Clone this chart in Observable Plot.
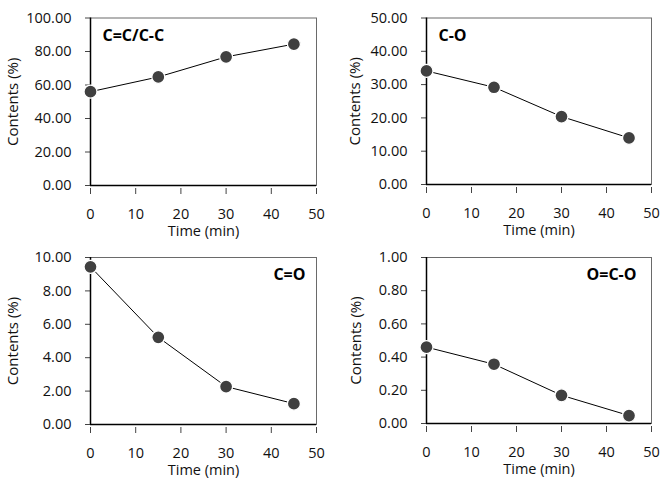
<!DOCTYPE html>
<html>
<head>
<meta charset="utf-8">
<script src="https://cdn.jsdelivr.net/npm/d3@7"></script>
<script src="https://cdn.jsdelivr.net/npm/@observablehq/plot@0.6"></script>
<style>
  body { margin: 0; background: white; }
  #wrap { position: relative; width: 661px; height: 482px; background: white; }
  #wrap > div, #wrap > svg { position: absolute; }
</style>
</head>
<body>
<div id="wrap"></div>
<script>
const times = [0, 15, 30, 45];
const xTicks = [0, 10, 20, 30, 40, 50];
const ccValues = [56.0, 64.8, 76.8, 84.4];
const coValues = [34.1, 29.2, 20.4, 14.0];
const cdoValues = [9.44, 5.22, 2.27, 1.25];
const ocoValues = [0.46, 0.357, 0.17, 0.048];
const ccTicks = [0, 20, 40, 60, 80, 100];
const coTicks = [0, 10, 20, 30, 40, 50];
const cdoTicks = [0, 2, 4, 6, 8, 10];
const ocoTicks = [0, 0.2, 0.4, 0.6, 0.8, 1.0];
const panelLabels = ["C=C/C-C", "C-O", "C=O", "O=C-O"];
const xTitle = "Time (min)";
const yTitle = "Contents (%)";

const panels = [
  {values: ccValues, ticks: ccTicks, label: panelLabels[0], left: 0, top: 0,
   m: {l: 90, r: 14, t: 17.5, b: 56}, labelPos: "left", ytDx: -77},
  {values: coValues, ticks: coTicks, label: panelLabels[1], left: 330, top: 0,
   m: {l: 96, r: 9, t: 17.5, b: 57}, labelPos: "left", ytDx: -71},
  {values: cdoValues, ticks: cdoTicks, label: panelLabels[2], left: 0, top: 241,
   m: {l: 90, r: 14, t: 16, b: 58}, labelPos: "right", labelDx: -11, ytDx: -77},
  {values: ocoValues, ticks: ocoTicks, label: panelLabels[3], left: 330, top: 241,
   m: {l: 96, r: 9, t: 16, b: 59}, labelPos: "right", labelDx: -15, ytDx: -70}
];

const wrap = document.getElementById("wrap");
const fmt = d3.format(".2f");

for (const p of panels) {
  const data = times.map((t, i) => ({t, v: p.values[i]}));
  const ymax = p.ticks[p.ticks.length - 1];
  const chart = Plot.plot({
    width: 330,
    height: 241,
    marginLeft: p.m.l,
    marginRight: p.m.r,
    marginTop: p.m.t,
    marginBottom: p.m.b,
    style: {fontFamily: "'Open Sans', sans-serif", fontSize: "14.5px", color: "#111", background: "white", overflow: "visible"},
    x: {domain: [0, 50]},
    y: {domain: [0, ymax]},
    marks: [
      Plot.frame({stroke: "#6a6a6a", strokeWidth: 1}),
      Plot.axisX({ticks: xTicks, tickSize: 6, tickPadding: 14, dy: 3, label: null, stroke: "#444", fontSize: 14.5}),
      Plot.axisY({ticks: p.ticks, tickSize: 5, tickPadding: 14, tickFormat: fmt, label: null, stroke: "#444", fontSize: 14.5}),
      Plot.ruleX([0], {stroke: "black", strokeWidth: 1.5}),
      Plot.ruleY([0], {stroke: "black", strokeWidth: 1.5}),
      Plot.line(data, {x: "t", y: "v", stroke: "black", strokeWidth: 1}),
      Plot.dot(data, {x: "t", y: "v", r: 6.5, fill: "#404040", stroke: "white", strokeWidth: 1.3}),
      Plot.text([p.label], p.labelPos === "left"
        ? {frameAnchor: "top-left", dx: 12, dy: 17.5, textAnchor: "start", lineAnchor: "middle", fontWeight: "bold", fontSize: 16, fill: "black"}
        : {frameAnchor: "top-right", dx: p.labelDx, dy: 17.5, textAnchor: "end", lineAnchor: "middle", fontWeight: "bold", fontSize: 16, fill: "black"}),
      Plot.text([xTitle], {frameAnchor: "bottom", dy: 46, textAnchor: "middle", lineAnchor: "middle", fontSize: 14.5, fill: "#111"}),
      Plot.text([yTitle], {frameAnchor: "left", dx: p.ytDx, rotate: -90, textAnchor: "middle", lineAnchor: "middle", fontSize: 15, fill: "#111"})
    ]
  });
  chart.style.left = p.left + "px";
  chart.style.top = p.top + "px";
  wrap.appendChild(chart);
}
</script>
</body>
</html>
